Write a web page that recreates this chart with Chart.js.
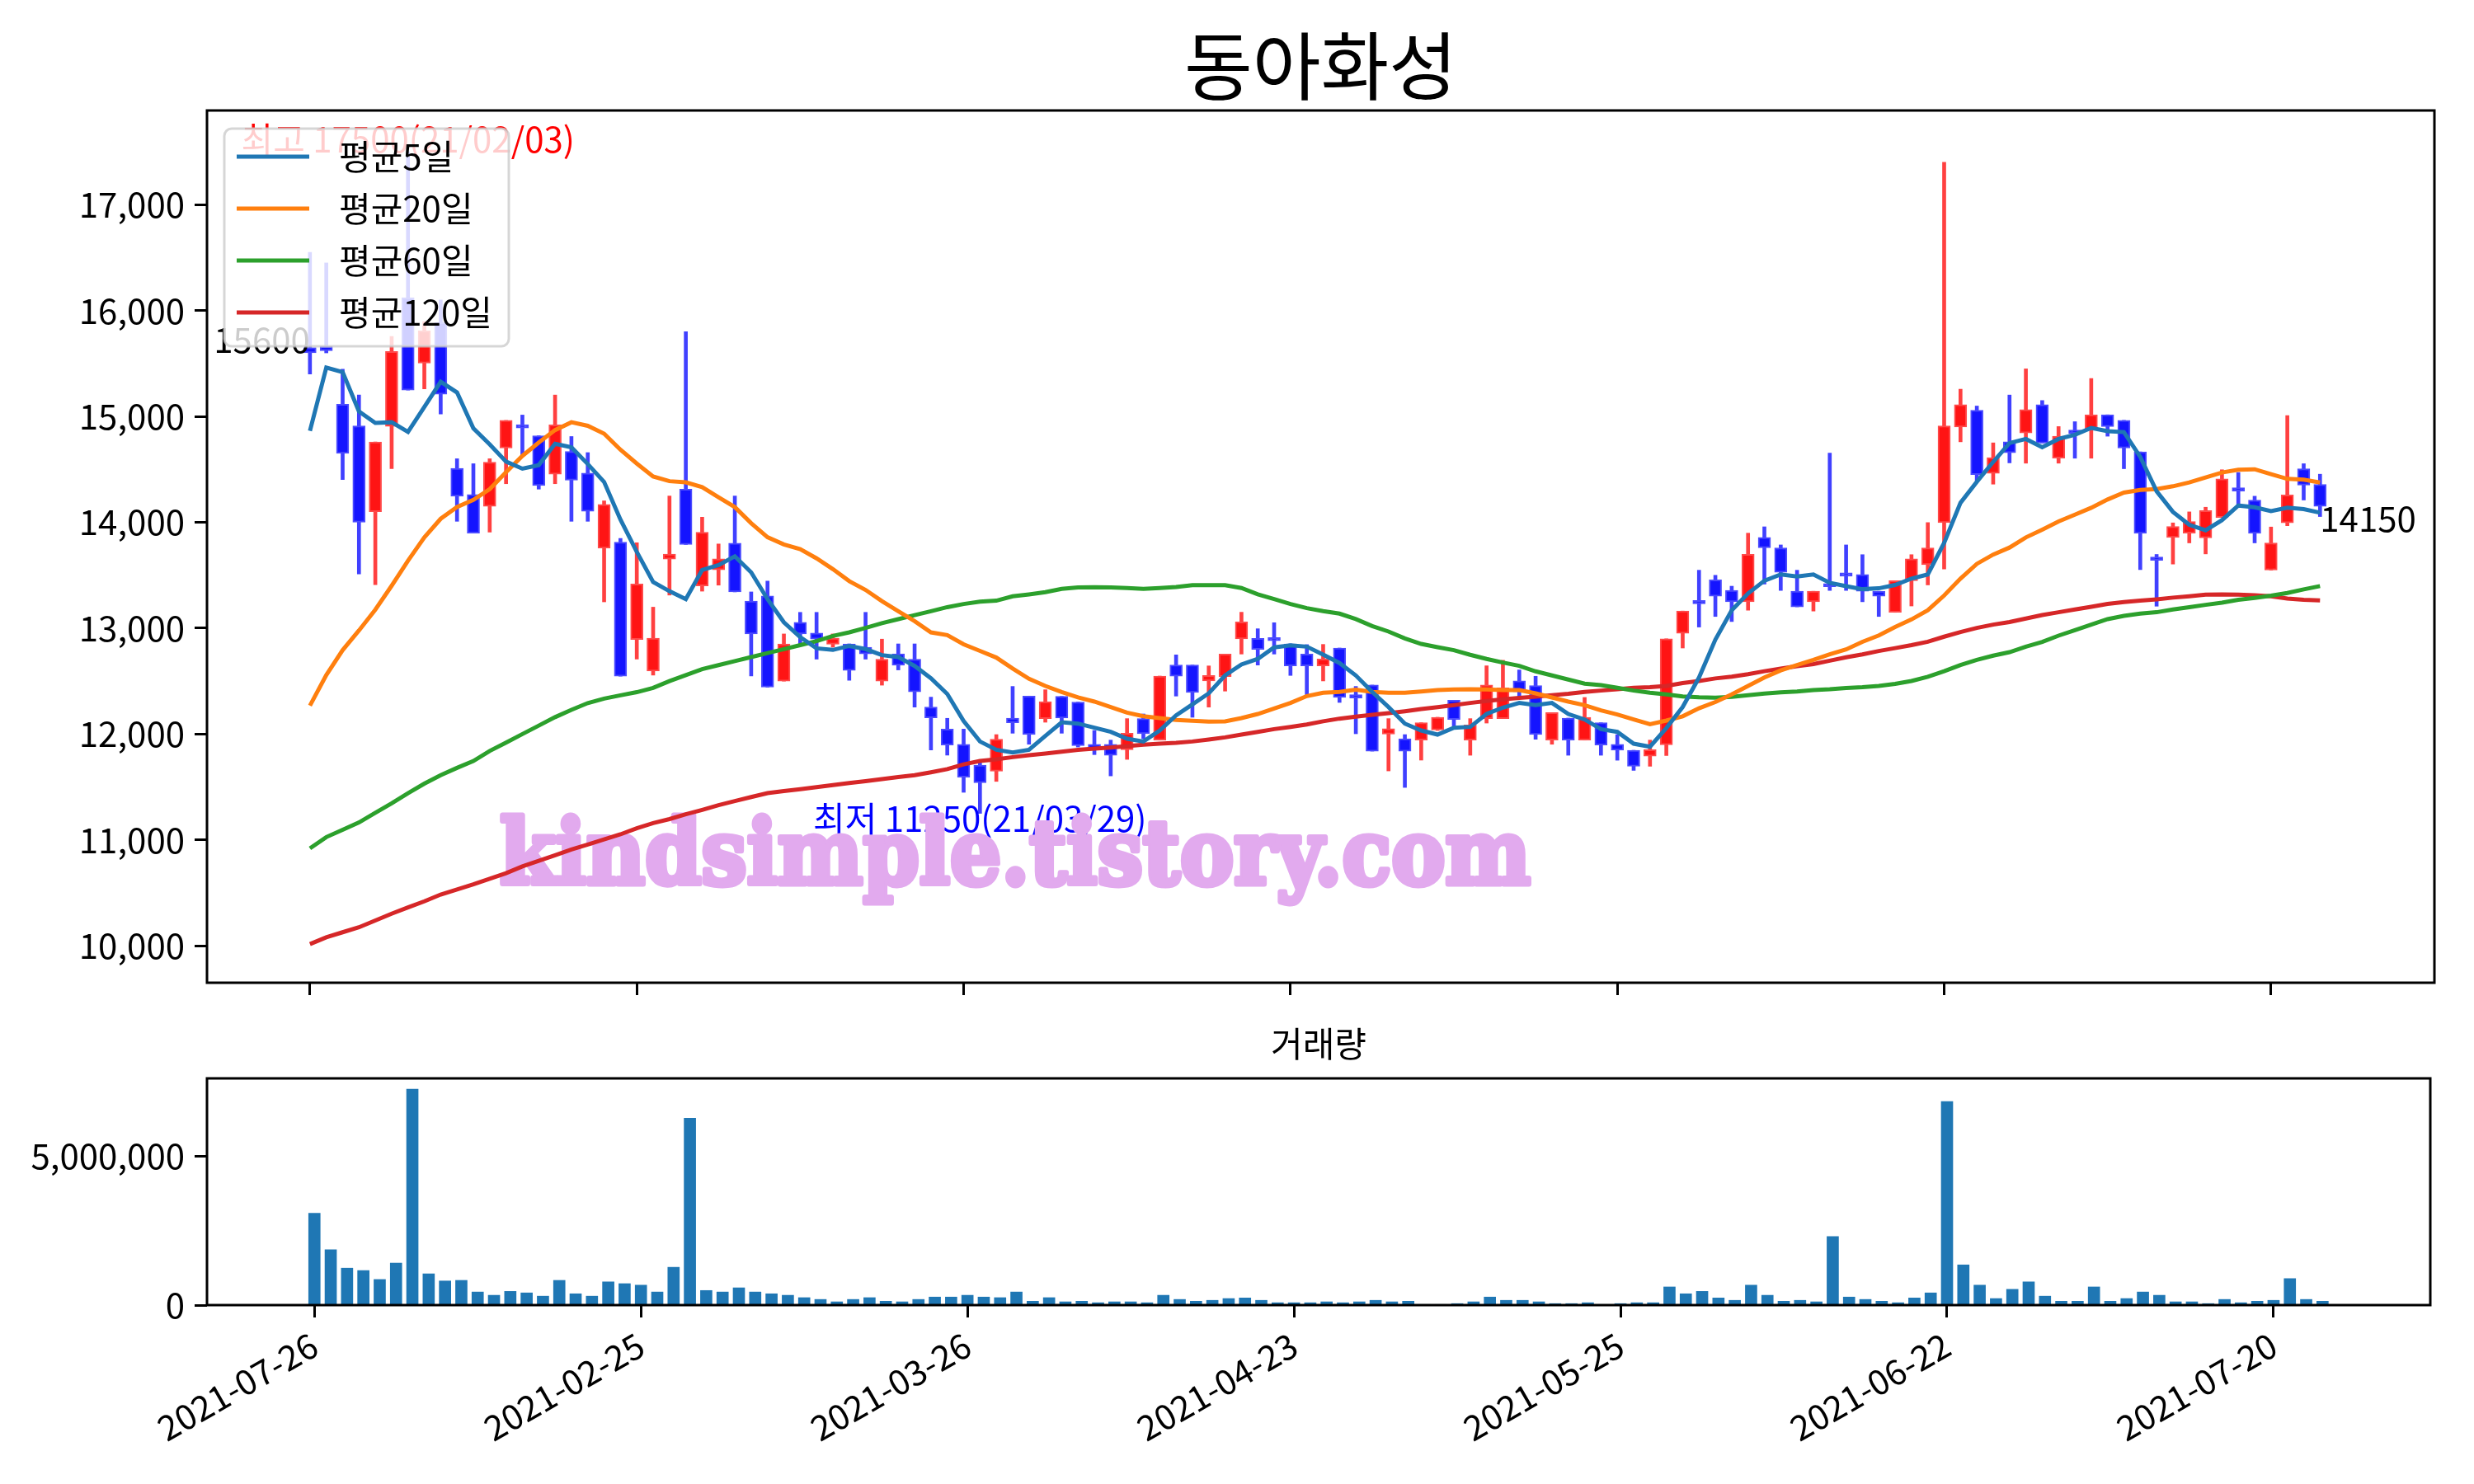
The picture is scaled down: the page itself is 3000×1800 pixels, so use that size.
<!DOCTYPE html>
<html>
<head>
<meta charset="utf-8">
<script src="https://cdn.jsdelivr.net/npm/chart.js@4.4.1/dist/chart.umd.min.js"></script>
<style>
html, body { margin: 0; padding: 0; background: #fff; }
#wrap { position: relative; width: 3000px; height: 1800px; }
#wrap canvas { position: absolute; left: 0; top: 0; }
</style>
</head>
<body>
<div id="wrap">
  <canvas id="priceChart" width="3000" height="1800"></canvas>
  <canvas id="volumeChart" width="3000" height="1800"></canvas>
</div>
<script>
// 종목 / 축 라벨
const stockName = '동아화성';
const tickIndex = [0, 20, 40, 60, 80, 100, 120];
const tickLabels = ['2021-07-26', '2021-02-25', '2021-03-26', '2021-04-23', '2021-05-25', '2021-06-22', '2021-07-20'];
const priceTicks = [10000, 11000, 12000, 13000, 14000, 15000, 16000, 17000];
const volumeTicks = [0, 5000000];

// 일봉 (시가/고가/저가/종가)
const opens = [15650, 15660, 15114, 14911, 14100, 14905, 16121, 15503, 15885, 14509, 14262, 14151, 14702, 14911, 14817, 14455, 14668, 14465, 13755, 13813,
  12893, 12594, 13651, 14313, 13398, 13550, 13803, 13255, 13304, 12499, 13055, 12953, 12847, 12851, 12820, 12499, 12756, 12707, 12254, 12046,
  11902, 11706, 11649, 12150, 12358, 12145, 12355, 12301, 11903, 11903, 11851, 12145, 11942, 12651, 12651, 12501, 12542, 12898, 12903, 12900,
  12851, 12755, 12644, 12812, 12360, 12462, 11999, 11955, 11942, 12038, 12319, 11942, 12145, 12145, 12501, 12457, 11942, 12150, 11942, 12106,
  11903, 11846, 11791, 11897, 12951, 13249, 13456, 13356, 13249, 13857, 13758, 13348, 13249, 13410, 13510, 13507, 13348, 13149, 13448, 13599,
  13997, 14899, 15058, 14462, 14761, 14844, 15111, 14605, 14860, 14878, 15015, 14963, 14665, 13660, 13857, 13898, 13852, 14046, 14315, 14210,
  13548, 13994, 14506, 14358];
const highs = [16550, 16450, 15445, 15202, 14759, 15756, 17500, 15895, 16100, 14600, 14553, 14600, 14962, 15013, 14817, 15202, 14810, 14658, 14202, 13847,
  13806, 13198, 14248, 15801, 14048, 13795, 14248, 13342, 13444, 12945, 13149, 13149, 12945, 12851, 13149, 12896, 12851, 12851, 12348, 12148,
  12046, 11750, 11994, 12449, 12358, 12418, 12355, 12301, 12033, 11942, 12145, 12189, 12547, 12747, 12651, 12643, 12755, 13150, 12994, 13051,
  12851, 12844, 12846, 12812, 12449, 12462, 12145, 11994, 12106, 12158, 12319, 12145, 12644, 12696, 12605, 12545, 12202, 12150, 12345, 12106,
  11994, 11846, 11942, 12899, 13161, 13547, 13499, 13396, 13897, 13957, 13786, 13547, 13348, 14653, 13786, 13694, 13348, 13448, 13694, 13997,
  17400, 15257, 15098, 14750, 15202, 15449, 15150, 14904, 14950, 15358, 15015, 14963, 14665, 13696, 13994, 14098, 14142, 14496, 14470, 14246,
  13955, 15008, 14553, 14454];
const lows = [15400, 15600, 14404, 13512, 13411, 14506, 15249, 15260, 15023, 14009, 13897, 13907, 14364, 14634, 14313, 14364, 14009, 14009, 13248, 12545,
  12708, 12556, 13312, 13791, 13349, 13406, 13342, 12548, 12443, 12499, 12851, 12707, 12820, 12507, 12707, 12461, 12605, 12254, 11849, 11800,
  11449, 11250, 11552, 12007, 11903, 12111, 12007, 11877, 11805, 11604, 11760, 11955, 11942, 12358, 12158, 12254, 12405, 12755, 12651, 12755,
  12553, 12371, 12501, 12298, 12002, 11838, 11651, 11495, 11753, 12033, 12072, 11799, 12103, 12145, 12345, 11950, 11903, 11799, 11942, 11799,
  11752, 11656, 11695, 11797, 12812, 13010, 13110, 13062, 13169, 13416, 13356, 13201, 13161, 13356, 13356, 13249, 13110, 13149, 13209, 13408,
  13559, 14760, 14394, 14360, 14561, 14558, 14748, 14558, 14605, 14605, 14813, 14506, 13553, 13207, 13605, 13805, 13701, 14046, 14168, 13805,
  13548, 13968, 14210, 14054];
const closes = [15600, 15620, 14651, 14000, 14759, 15614, 15249, 15810, 15209, 14245, 13897, 14567, 14962, 14890, 14347, 14921, 14398, 14103, 14168, 12545,
  13417, 12904, 13700, 13791, 13905, 13655, 13342, 12945, 12443, 12851, 12945, 12896, 12904, 12601, 12756, 12707, 12650, 12397, 12152, 11895,
  11592, 11539, 11950, 12106, 11994, 12306, 12150, 11890, 11851, 11799, 12007, 12002, 12547, 12545, 12392, 12553, 12755, 13059, 12799, 12880,
  12644, 12644, 12709, 12345, 12340, 11838, 12051, 11838, 12106, 12158, 12137, 12085, 12462, 12436, 12397, 11994, 12202, 11942, 12158, 11895,
  11846, 11695, 11851, 12899, 13161, 13230, 13301, 13249, 13698, 13758, 13527, 13201, 13348, 13390, 13490, 13348, 13301, 13448, 13655, 13758,
  14911, 15110, 14450, 14611, 14657, 15065, 14748, 14813, 14840, 15015, 14904, 14701, 13896, 13640, 13961, 14007, 14111, 14410, 14295, 13896,
  13805, 14259, 14350, 14150];

// 거래량
const volumes = [3080000, 1860000, 1240000, 1160000, 860000, 1410000, 7250000, 1050000, 810000, 830000, 440000, 330000, 460000, 410000, 300000, 830000, 380000, 300000, 780000, 720000,
  670000, 440000, 1270000, 6270000, 490000, 440000, 580000, 440000, 380000, 330000, 250000, 190000, 110000, 190000, 250000, 130000, 110000, 190000, 270000, 270000,
  330000, 270000, 250000, 440000, 130000, 250000, 110000, 130000, 80000, 110000, 110000, 80000, 330000, 190000, 130000, 160000, 220000, 240000, 160000, 80000,
  80000, 80000, 110000, 80000, 110000, 160000, 110000, 130000, 20000, 20000, 50000, 110000, 270000, 160000, 160000, 110000, 50000, 50000, 80000, 20000,
  50000, 80000, 80000, 610000, 380000, 460000, 240000, 160000, 670000, 330000, 130000, 160000, 110000, 2300000, 270000, 190000, 130000, 80000, 240000, 410000,
  6830000, 1350000, 670000, 220000, 530000, 780000, 300000, 130000, 130000, 610000, 130000, 220000, 440000, 330000, 110000, 110000, 50000, 190000, 80000, 130000,
  160000, 890000, 190000, 130000];

// 이동평균선
const ma5 = [14864, 15462, 15418, 15047, 14938, 14945, 14854, 15090, 15327, 15226, 14888, 14736, 14573, 14506, 14540, 14742, 14708, 14550, 14381, 14026,
  13720, 13436, 13349, 13274, 13550, 13595, 13678, 13527, 13274, 13055, 12915, 12809, 12794, 12832, 12802, 12745, 12726, 12643, 12526, 12378,
  12122, 11929, 11851, 11825, 11851, 11981, 12111, 12098, 12059, 12020, 11955, 11929, 12033, 12176, 12280, 12384, 12553, 12657, 12709, 12818,
  12838, 12825, 12750, 12670, 12553, 12397, 12254, 12098, 12033, 11994, 12059, 12067, 12189, 12249, 12293, 12272, 12293, 12189, 12137, 12046,
  12020, 11908, 11880, 12056, 12255, 12533, 12891, 13169, 13328, 13448, 13507, 13488, 13507, 13428, 13396, 13368, 13376, 13408, 13468, 13507,
  13806, 14184, 14382, 14570, 14748, 14787, 14709, 14787, 14826, 14891, 14860, 14852, 14618, 14293, 14098, 13976, 13924, 14020, 14158, 14142,
  14106, 14137, 14124, 14090];
const ma20 = [12268, 12556, 12792, 12978, 13174, 13400, 13637, 13857, 14033, 14144, 14212, 14313, 14472, 14627, 14753, 14871, 14945, 14911, 14837, 14685,
  14555, 14433, 14388, 14377, 14332, 14237, 14143, 13991, 13859, 13791, 13746, 13659, 13557, 13444, 13361, 13255, 13160, 13066, 12960, 12934,
  12847, 12785, 12722, 12618, 12521, 12454, 12397, 12345, 12306, 12254, 12202, 12168, 12150, 12132, 12124, 12116, 12119, 12150, 12189, 12241,
  12293, 12358, 12390, 12397, 12418, 12397, 12389, 12389, 12402, 12415, 12420, 12423, 12420, 12415, 12415, 12384, 12345, 12306, 12272, 12223,
  12184, 12137, 12093, 12127, 12167, 12243, 12302, 12374, 12454, 12533, 12601, 12652, 12700, 12752, 12799, 12871, 12931, 13010, 13082, 13169,
  13308, 13468, 13607, 13695, 13761, 13857, 13930, 14007, 14072, 14137, 14215, 14280, 14306, 14314, 14340, 14376, 14423, 14470, 14496, 14501,
  14454, 14410, 14402, 14376];
const ma60 = [10919, 11026, 11095, 11164, 11255, 11345, 11441, 11531, 11611, 11680, 11744, 11840, 11919, 11999, 12079, 12159, 12228, 12292, 12334, 12365,
  12395, 12435, 12499, 12556, 12613, 12650, 12688, 12726, 12764, 12801, 12839, 12877, 12926, 12960, 13002, 13047, 13085, 13123, 13160, 13198,
  13228, 13250, 13259, 13301, 13319, 13340, 13371, 13384, 13387, 13384, 13379, 13371, 13379, 13389, 13405, 13405, 13405, 13379, 13319, 13275,
  13228, 13189, 13160, 13137, 13085, 13020, 12968, 12903, 12851, 12820, 12792, 12748, 12709, 12675, 12644, 12592, 12553, 12514, 12475, 12462,
  12436, 12410, 12390, 12374, 12354, 12346, 12342, 12350, 12366, 12382, 12394, 12402, 12414, 12422, 12434, 12442, 12454, 12474, 12501, 12541,
  12593, 12652, 12700, 12740, 12773, 12825, 12869, 12929, 12981, 13033, 13085, 13116, 13137, 13150, 13176, 13197, 13220, 13241, 13267, 13285,
  13306, 13332, 13366, 13397];
const ma120 = [10015, 10079, 10127, 10174, 10238, 10302, 10361, 10419, 10483, 10531, 10579, 10632, 10685, 10749, 10802, 10855, 10909, 10956, 11004, 11052,
  11110, 11158, 11196, 11241, 11283, 11328, 11366, 11404, 11441, 11460, 11479, 11498, 11517, 11536, 11555, 11574, 11593, 11611, 11638, 11668,
  11713, 11745, 11760, 11781, 11799, 11815, 11833, 11851, 11862, 11872, 11885, 11898, 11908, 11916, 11929, 11947, 11968, 11994, 12020, 12046,
  12067, 12090, 12120, 12145, 12163, 12181, 12197, 12215, 12236, 12254, 12272, 12293, 12311, 12327, 12340, 12353, 12366, 12379, 12397, 12410,
  12423, 12436, 12442, 12454, 12481, 12501, 12525, 12541, 12565, 12593, 12617, 12640, 12660, 12692, 12724, 12752, 12784, 12811, 12839, 12871,
  12919, 12963, 13002, 13033, 13057, 13090, 13124, 13150, 13176, 13202, 13228, 13246, 13259, 13272, 13288, 13301, 13316, 13319, 13316, 13311,
  13301, 13280, 13267, 13262];

// 최고 / 최저 표시
const maxIndex = 6, maxLabel = '최고 17500(21/02/03)';
const minIndex = 41, minLabel = '최저 11250(21/03/29)';
const watermark = 'kindsimple.tistory.com';

const FONT = '"Noto Sans CJK KR", "Noto Sans", sans-serif';
Chart.defaults.font.family = FONT;
Chart.defaults.font.size = 42;
Chart.defaults.color = '#000';

const idx = closes.map((c, i) => i);
const isUp = closes.map((c, i) => c >= opens[i]);
const fmt = v => Number(v).toLocaleString('en-US');

// 축 박스 그리기
const boxPlugin = {
    id: 'box',
    afterDraw(chart) {
        const a = chart.chartArea, ctx = chart.ctx;
        ctx.save();
        ctx.strokeStyle = '#000';
        ctx.lineWidth = 3;
        ctx.strokeRect(a.left, a.top, a.right - a.left, a.bottom - a.top);
        ctx.restore();
    }
};

// 주가 차트 텍스트, 워터마크, 범례
const priceDeco = {
    id: 'priceDeco',
    beforeDatasetsDraw(chart) {
        const ctx = chart.ctx, x = chart.scales.x, y = chart.scales.y;
        ctx.save();
        ctx.font = '42px ' + FONT;
        ctx.fillStyle = '#0000ff';
        ctx.textAlign = 'center';
        ctx.textBaseline = 'middle';
        ctx.fillText(minLabel, x.getPixelForValue(minIndex), y.getPixelForValue(lows[minIndex]) + 6);

        // 워터마크
        ctx.font = 'bold 108px "DejaVu Serif"';
        const w = ctx.measureText(watermark).width;
        ctx.translate(606, 1072);
        ctx.scale(1250 / w, 1);
        ctx.fillStyle = '#e2aaee';
        ctx.strokeStyle = '#e2aaee';
        ctx.lineWidth = 7;
        ctx.lineJoin = 'round';
        ctx.textAlign = 'left';
        ctx.textBaseline = 'alphabetic';
        ctx.strokeText(watermark, 0, 0);
        ctx.fillText(watermark, 0, 0);
        ctx.restore();
    },
    afterDatasetsDraw(chart) {
        const ctx = chart.ctx, x = chart.scales.x, y = chart.scales.y;
        const last = closes.length - 1;
        ctx.save();
        ctx.font = '42px ' + FONT;
        ctx.fillStyle = '#ff0000';
        ctx.textAlign = 'center';
        ctx.textBaseline = 'middle';
        ctx.fillText(maxLabel, x.getPixelForValue(maxIndex), y.getPixelForValue(highs[maxIndex]) - 15);

        ctx.fillStyle = '#000';
        ctx.textAlign = 'right';
        ctx.textBaseline = 'alphabetic';
        ctx.fillText(String(closes[0]), x.getPixelForValue(0), y.getPixelForValue(closes[0]));
        ctx.textAlign = 'left';
        ctx.textBaseline = 'top';
        ctx.fillText(String(closes[last]), x.getPixelForValue(last), y.getPixelForValue(closes[last]) - 6);

        // 제목
        const a = chart.chartArea;
        ctx.font = '90px ' + FONT;
        ctx.textAlign = 'center';
        ctx.textBaseline = 'middle';
        ctx.fillText(stockName, (a.left + a.right) / 2, 80);
        ctx.restore();
    },
    afterDraw(chart) {
        const ctx = chart.ctx;
        const lines = chart.data.datasets.filter(d => d.type === 'line');
        ctx.save();
        ctx.beginPath();
        ctx.roundRect(272, 156, 345, 264, 9);
        ctx.fillStyle = 'rgba(255,255,255,0.8)';
        ctx.fill();
        ctx.strokeStyle = 'rgba(204,204,204,0.8)';
        ctx.lineWidth = 3;
        ctx.stroke();
        ctx.font = '42px ' + FONT;
        ctx.textBaseline = 'middle';
        ctx.textAlign = 'left';
        lines.forEach((d, k) => {
            const yy = 190 + k * 63;
            ctx.strokeStyle = d.borderColor;
            ctx.lineWidth = 5;
            ctx.beginPath();
            ctx.moveTo(287, yy);
            ctx.lineTo(375, yy);
            ctx.stroke();
            ctx.fillStyle = '#000';
            ctx.fillText(d.label, 411, yy);
        });
        ctx.restore();
    }
};

function maLine(label, values, color, order) {
    return {
        type: 'line',
        label: label,
        data: idx.map(i => ({ x: i, y: values[i] })),
        borderColor: color,
        borderWidth: 5,
        pointRadius: 0,
        tension: 0,
        order: order
    };
}

new Chart(document.getElementById('priceChart'), {
    type: 'bar',
    data: {
        datasets: [
            maLine('평균5일', ma5, '#1f77b4', 0),
            maLine('평균20일', ma20, '#ff7f0e', 1),
            maLine('평균60일', ma60, '#2ca02c', 2),
            maLine('평균120일', ma120, '#d62728', 3),
            {
                label: 'body',
                data: idx.map(i => ({ x: i, y: [opens[i], closes[i]] })),
                backgroundColor: idx.map(i => isUp[i] ? '#ff1414' : '#1414ff'),
                borderColor: idx.map(i => isUp[i] ? '#ff4a4a' : '#4a4aff'),
                borderWidth: 2,
                borderSkipped: false,
                barThickness: 15,
                minBarLength: 4,
                grouped: false,
                order: 10
            },
            {
                label: 'wick',
                data: idx.map(i => ({ x: i, y: [lows[i], highs[i]] })),
                backgroundColor: idx.map(i => isUp[i] ? 'rgba(255,0,0,0.75)' : 'rgba(0,0,255,0.75)'),
                borderWidth: 0,
                barThickness: 4,
                grouped: false,
                order: 11
            }
        ]
    },
    options: {
        responsive: false,
        animation: false,
        devicePixelRatio: 1,
        layout: { padding: { top: 134, right: 48, left: 0, bottom: 0 } },
        plugins: { legend: { display: false }, tooltip: { enabled: false }, title: { display: false } },
        scales: {
            x: {
                type: 'linear',
                min: -6.3,
                max: 130,
                offset: false,
                afterFit: s => { s.height = 1800 - 1192; },
                afterBuildTicks: s => { s.ticks = tickIndex.map(v => ({ value: v })); },
                grid: { offset: false, drawOnChartArea: false, drawTicks: true, tickLength: 15, tickWidth: 3, tickColor: '#000' },
                border: { display: false },
                ticks: { display: false }
            },
            y: {
                min: 9650,
                max: 17890,
                afterFit: s => { s.width = 251; },
                afterBuildTicks: s => { s.ticks = priceTicks.map(v => ({ value: v })); },
                grid: { drawOnChartArea: false, drawTicks: true, tickLength: 15, tickWidth: 3, tickColor: '#000' },
                border: { display: false },
                ticks: { padding: 12, callback: v => fmt(v) }
            }
        }
    },
    plugins: [priceDeco, boxPlugin]
});

// 거래량 차트
const volumeDeco = {
    id: 'volumeDeco',
    afterDraw(chart) {
        const ctx = chart.ctx, a = chart.chartArea;
        ctx.save();
        ctx.font = '42px ' + FONT;
        ctx.fillStyle = '#000';
        ctx.textAlign = 'center';
        ctx.textBaseline = 'middle';
        ctx.fillText('거래량', (a.left + a.right) / 2, 1266);
        ctx.restore();
    }
};

new Chart(document.getElementById('volumeChart'), {
    type: 'bar',
    data: {
        datasets: [{
            label: '거래량',
            data: idx.map(i => ({ x: i, y: volumes[i] })),
            backgroundColor: '#1f77b4',
            barThickness: 14,
            grouped: false
        }]
    },
    options: {
        responsive: false,
        animation: false,
        devicePixelRatio: 1,
        layout: { padding: { top: 1308, right: 53, left: 0, bottom: 0 } },
        plugins: { legend: { display: false }, tooltip: { enabled: false } },
        scales: {
            x: {
                type: 'linear',
                min: -6.58,
                max: 129.6,
                offset: false,
                afterFit: s => { s.height = 1800 - 1583; },
                afterBuildTicks: s => { s.ticks = tickIndex.map(v => ({ value: v })); },
                grid: { offset: false, drawOnChartArea: false, drawTicks: true, tickLength: 15, tickWidth: 3, tickColor: '#000' },
                border: { display: false },
                ticks: {
                    padding: 8,
                    minRotation: 30,
                    maxRotation: 30,
                    callback: v => {
                        const k = tickIndex.indexOf(v);
                        return k >= 0 ? tickLabels[k] : '';
                    }
                }
            },
            y: {
                min: 0,
                max: 7610000,
                afterFit: s => { s.width = 251; },
                afterBuildTicks: s => { s.ticks = volumeTicks.map(v => ({ value: v })); },
                grid: { drawOnChartArea: false, drawTicks: true, tickLength: 15, tickWidth: 3, tickColor: '#000' },
                border: { display: false },
                ticks: { padding: 12, callback: v => fmt(v) }
            }
        }
    },
    plugins: [volumeDeco, boxPlugin]
});
</script>
</body>
</html>
